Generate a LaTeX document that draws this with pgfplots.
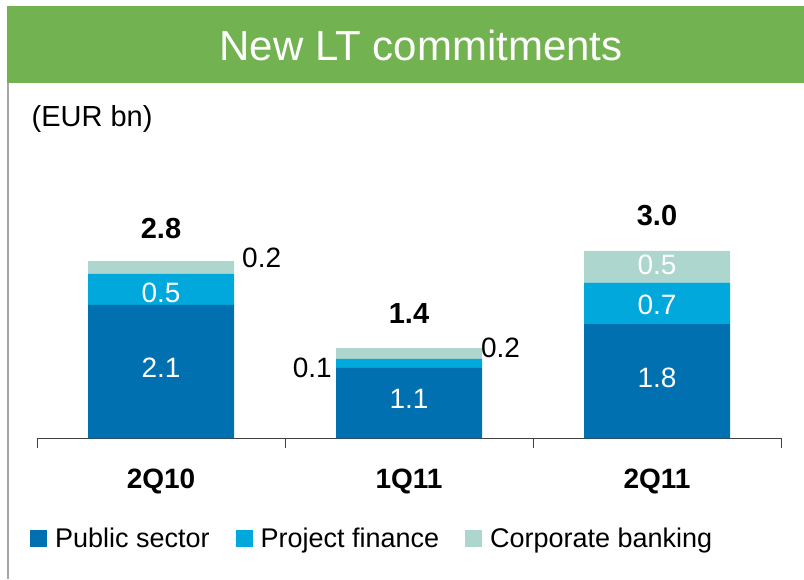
\documentclass[border=0pt]{standalone}
\usepackage{pgfplots}
\pgfplotsset{compat=1.18}
\usepackage{fontspec}
\setmainfont{Liberation Sans}
\definecolor{pub}{RGB}{0,112,176}
\definecolor{proj}{RGB}{0,168,220}
\definecolor{corp}{RGB}{173,214,206}
\definecolor{banner}{RGB}{114,178,80}
\definecolor{axiscol}{RGB}{64,64,64}
\definecolor{framecol}{RGB}{166,166,166}
\newcommand\fsz[1]{\fontsize{#1}{#1}\selectfont}
\pgfplotsset{sqlegend/.style={legend image code/.code={\fill[##1] (0pt,-8.5pt) rectangle (17pt,8.5pt); \path (25pt,0pt);}}}
\begin{document}
\begin{tikzpicture}
\useasboundingbox (0pt,0pt) rectangle (804pt,579pt);
\fill[banner] (7pt,496pt) rectangle (804pt,573pt);
\node[anchor=base, text=white, inner sep=0pt, font=\fsz{42}] at (421pt,518pt) {New LT commitments};
\draw[framecol, line width=1.5pt] (8pt,0pt) -- (8pt,496pt);
\node[anchor=base west, inner sep=0pt, font=\fsz{29}] at (31.5pt,452pt) {(EUR bn)};
\begin{axis}[
 at={(37pt,140.7pt)}, anchor=south west,
 scale only axis, width=744pt, height=222.25pt,
 xmin=-0.5, xmax=2.5, ymin=0, ymax=3.5,
 axis x line*=bottom, axis y line=none,
 xtick={-0.5,0.5,1.5,2.5}, xticklabels={,,,}, ytick=\empty,
 tick align=outside, major tick length=10pt,
 x axis line style={draw=axiscol, line width=1pt},
 xtick style={draw=axiscol, line width=1pt},
 ybar stacked, bar width=146pt,
 clip=false,
 legend columns=3, legend cell align=left,
 legend style={draw=none, fill=none, at={(-0.0094,-0.451)}, anchor=west,
   inner sep=0pt, outer sep=0pt, column sep=0pt, font=\fsz{27},
   nodes={inner sep=0pt},
   /tikz/every even column/.append style={column sep=26pt}},
]
\addplot[fill=pub, draw=none, sqlegend] coordinates {(0,2.1) (1,1.11) (2,1.8)};
\addplot[fill=proj, draw=none, sqlegend] coordinates {(0,0.49) (1,0.14) (2,0.65)};
\addplot[fill=corp, draw=none, sqlegend] coordinates {(0,0.2) (1,0.17) (2,0.5)};
\legend{Public sector, Project finance, Corporate banking}
\coordinate (w1) at (axis cs:0,0.965);
\coordinate (w2) at (axis cs:0,2.146);
\coordinate (w3) at (axis cs:1,0.477);
\coordinate (w4) at (axis cs:2,0.794);
\coordinate (w5) at (axis cs:2,1.957);
\coordinate (w6) at (axis cs:2,2.587);
\coordinate (o1) at (axis cs:0.3266,2.682);
\coordinate (o2) at (axis cs:0.6895,0.965);
\coordinate (o3) at (axis cs:1.290,1.265);
\coordinate (t1) at (axis cs:0,3.139);
\coordinate (t2) at (axis cs:1,1.80);
\coordinate (t3) at (axis cs:2,3.359);
\coordinate (c1) at (axis cs:0,-0.798);
\coordinate (c2) at (axis cs:1,-0.798);
\coordinate (c3) at (axis cs:2,-0.798);
\end{axis}
\begin{scope}[every node/.style={inner sep=0pt, anchor=base, font=\fsz{28}}]
\node[text=white] at (w1) {2.1};
\node[text=white] at (w2) {0.5};
\node[text=white] at (w3) {1.1};
\node[text=white] at (w4) {1.8};
\node[text=white] at (w5) {0.7};
\node[text=white] at (w6) {0.5};
\node[anchor=base west] at (o1) {0.2};
\node[anchor=base east] at (o2) {0.1};
\node[anchor=base west] at (o3) {0.2};
\node[font=\fsz{29}\bfseries] at (t1) {2.8};
\node[font=\fsz{29}\bfseries] at (t2) {1.4};
\node[font=\fsz{29}\bfseries] at (t3) {3.0};
\node[font=\fsz{28}\bfseries] at (c1) {2Q10};
\node[font=\fsz{28}\bfseries] at (c2) {1Q11};
\node[font=\fsz{28}\bfseries] at (c3) {2Q11};
\end{scope}
\end{tikzpicture}
\end{document}
